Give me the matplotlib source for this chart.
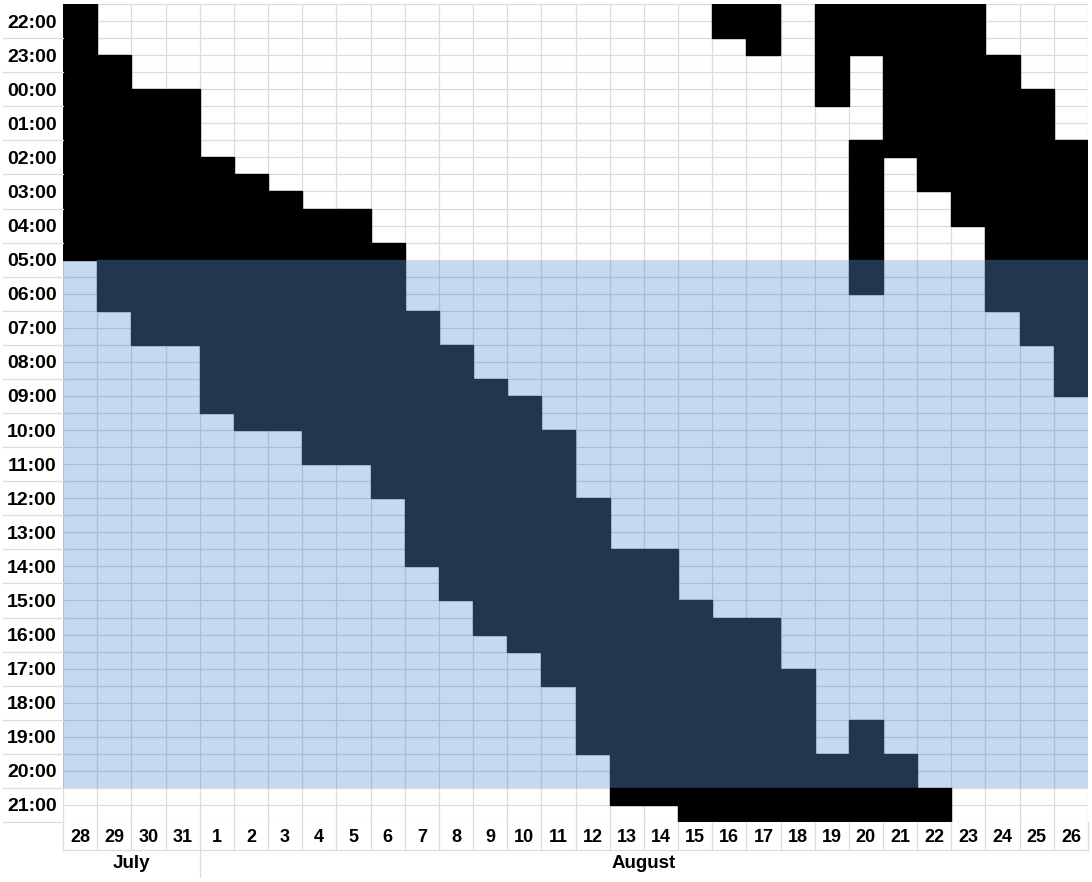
#coding:utf-8
'''
sleep / activity chart, 28 July - 26 August
'''
import matplotlib
matplotlib.use('Agg')
from matplotlib import pyplot as plt

# columns: 28 July .. 26 August
days = [28, 29, 30, 31] + list(range(1, 27))
months = ['July', 'August']
month_first_col = [0, 4]

# episodes: column where it starts, onset, offset (clock time)
ep_col = [0, 1, 2, 3, 4, 5, 6, 7, 8, 9, 10, 11, 12, 13, 14, 15, 16, 17, 18, 19,
          20, 21, 22, 23, 23, 24, 25, 27, 28, 29]
ep_on = ['21:30', '23:00', '00:00', '00:00', '02:00', '02:30', '03:00', '03:30', '03:30', '04:30',
         '06:30', '07:30', '08:30', '09:00', '10:00', '12:00', '13:30', '13:30', '15:00', '15:30',
         '15:30', '17:00', '19:30', '01:30', '18:30', '19:30', '20:30', '23:00', '00:00', '01:30']
ep_off = ['05:00', '06:30', '07:30', '07:30', '09:30', '10:00', '10:00', '11:00', '11:00', '12:00',
          '14:00', '15:00', '16:00', '16:30', '17:30', '19:30', '21:00', '21:00', '22:30', '23:00',
          '21:30', '00:30', '23:00', '06:00', '02:00', '03:00', '04:00', '06:30', '07:30', '09:00']

# light period (blue band)
light_on = '05:00'
light_off = '20:30'

day_start = 21.5   # each column runs 21:30 -> 21:30

W, H = 1092, 882
NAVY = '#233650'
LIGHT = '#c5d9f1'
GRID = '#dcdcdc'
GRID_BLUE = '#a9bdd7'
FONT = 'Liberation Sans'


def hrs(t):
    h, m = t.split(':')
    return int(h) + int(m) / 60.0


def pos(t):
    # hours since 21:30
    return (hrs(t) - day_start) % 24


def run_main():
    fig = plt.figure(figsize=(W / 100.0, H / 100.0), dpi=100)
    ax = fig.add_axes([63.0 / W, 1 - 822.0 / H, (1088 - 63.0) / W, (822 - 4.0) / H])
    ncol = len(days)
    ax.set_xlim(0, ncol)
    ax.set_ylim(24, 0)

    b0, b1 = pos(light_on), pos(light_off)
    ax.axhspan(b0, b1, color=LIGHT, lw=0, zorder=0)

    # grid, bluish inside the light band
    for k in range(49):
        y = k * 0.5
        c = GRID_BLUE if b0 < y < b1 else GRID
        ax.hlines(y, 0, ncol, color=c, lw=0.9, zorder=1)
    for x in range(ncol + 1):
        ax.vlines(x, 0, b0, color=GRID, lw=0.9, zorder=1)
        ax.vlines(x, b0, b1, color=GRID_BLUE, lw=0.9, zorder=1)
        ax.vlines(x, b1, 24, color=GRID, lw=0.9, zorder=1)

    # split episodes into column segments
    segs = []
    for c, on, off in zip(ep_col, ep_on, ep_off):
        s = pos(on)
        e = s + (hrs(off) - hrs(on)) % 24
        if e <= 24:
            segs.append((c, s, e))
        else:
            segs.append((c, s, 24))
            if c + 1 < ncol:
                segs.append((c + 1, 0, e - 24))

    for c, s, e in segs:
        for lo, hi, col in [(0, b0, 'black'), (b0, b1, NAVY), (b1, 24, 'black')]:
            a, b = max(s, lo), min(e, hi)
            if b > a:
                ax.bar(c, b - a, bottom=a, width=1, align='edge', color=col,
                       edgecolor=col, lw=1.0, zorder=2)

    # hour labels
    ticks = [k + 0.5 for k in range(24)]
    labels = ['%02d:00' % ((22 + k) % 24) for k in range(24)]
    ax.set_yticks(ticks)
    ax.set_yticklabels(labels, fontfamily=FONT, fontweight='bold', fontsize=14)
    ax.tick_params(axis='y', length=0, pad=4.5)
    ax.set_xticks([])
    for sp in ax.spines.values():
        sp.set_visible(False)

    # separators in the hour label column
    xl = -60.0 / 1025
    for k in range(1, 25):
        ax.plot([xl, 0], [k, k], color=GRID, lw=0.9, transform=ax.get_yaxis_transform(),
                clip_on=False)

    # day row and month row
    tr = ax.get_xaxis_transform()
    px = 1.0 / 818
    for i, d in enumerate(days):
        ax.text(i + 0.5, -16 * px, str(d), transform=tr, ha='center', va='center',
                fontfamily=FONT, fontweight='bold', fontsize=13)
    for x in range(ncol + 1):
        ax.plot([x, x], [0, -28 * px], color=GRID, lw=0.9, transform=tr, clip_on=False)
    ax.plot([0, ncol], [-28 * px, -28 * px], color=GRID, lw=0.9, transform=tr, clip_on=False)

    ends = month_first_col[1:] + [ncol]
    for m, a, b in zip(months, month_first_col, ends):
        ax.text((a + b) / 2.0, -41 * px, m, transform=tr, ha='center', va='center',
                fontfamily=FONT, fontweight='bold', fontsize=13.5)
    for a in month_first_col[1:]:
        ax.plot([a, a], [-28 * px, -55 * px], color=GRID, lw=0.9, transform=tr, clip_on=False)

    fig.savefig('out.png', dpi=100)
    return ''


if __name__ == '__main__':
    run_main()
